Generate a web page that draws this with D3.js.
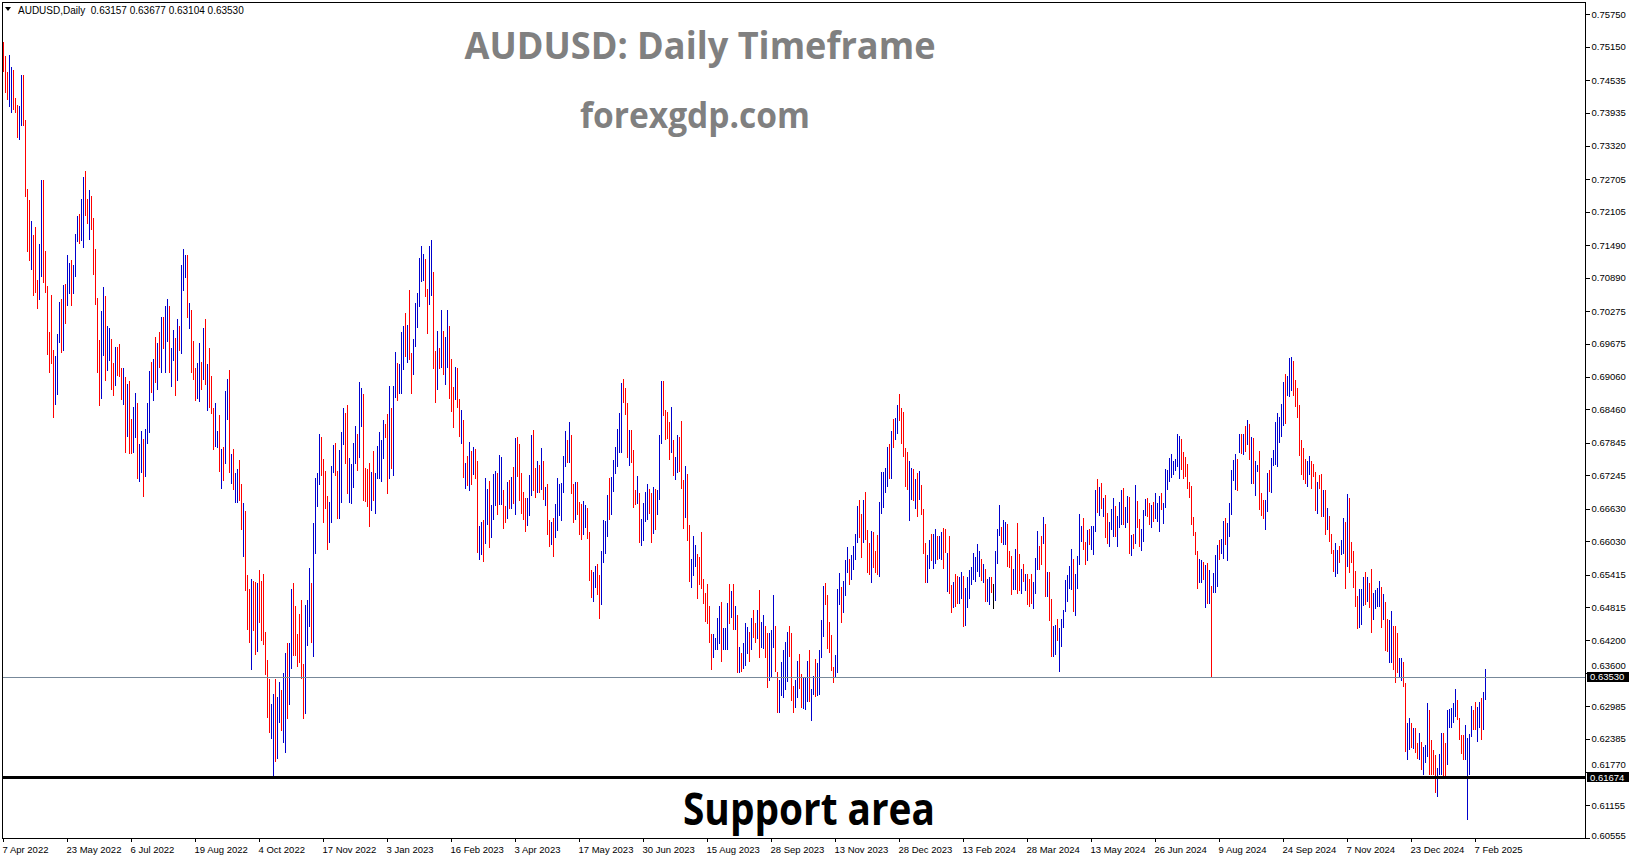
<!DOCTYPE html>
<html><head><meta charset="utf-8">
<script src="https://cdn.jsdelivr.net/npm/d3@7"></script>
<style>html,body{margin:0;padding:0;background:#fff;overflow:hidden}svg{display:block}</style>
</head><body>
<svg id="c" width="1631" height="861"></svg>
<script>
// ---- data (AUDUSD daily bars, 7 Apr 2022 .. 14 Feb 2025) ----
const highs = [
.7523,.7497,.7469,.7499,.7478,.7472,.7421,.7408,.7405,.7462,.7462,.7380,.7253,.7232,.7194,.7167,.7183,.7085,.7152,.7270,
.7270,.7139,.7074,.6989,.7057,.6956,.6945,.6986,.7045,.7050,.7076,.7077,.7131,.7117,.7122,.7112,.7170,.7203,.7207,.7234,
.7274,.7286,.7234,.7251,.7239,.7200,.7142,.7052,.6974,.7028,.7072,.7055,.6999,.6997,.6976,.6932,.6962,.6962,.6967,.6923,
.6923,.6906,.6892,.6899,.6829,.6851,.6877,.6858,.6783,.6807,.6792,.6809,.6858,.6916,.6934,.6939,.6980,.6969,.6988,.7016,
.7017,.7036,.7050,.7036,.6960,.6993,.6978,.7013,.6999,.7112,.7141,.7131,.7130,.7043,.7029,.6973,.6923,.6932,.6968,.6933,
.6996,.7013,.6929,.6960,
.6907,.6849,.6858,.6807,.6836,.6773,.6777,.6880,.6903,.6919,.6763,.6773,.6728,.6736,.6752,.6709,.6674,.6659,.6541,.6515,
.6533,.6529,.6527,.6525,.6550,.6529,.6543,.6435,.6383,.6349,.6302,.6321,.6349,.6316,.6343,.6328,.6359,.6396,.6415,.6416,
.6514,.6525,.6483,.6432,.6468,.6495,.6376,.6486,.6494,.6554,.6525,.6636,.6720,.6728,.6801,.6795,.6755,.6733,.6687,.6675,
.6742,.6781,.6785,.6732,.6772,.6805,.6849,.6840,.6855,.6757,.6746,.6785,.6815,.6801,.6897,.6886,.6874,.6738,.6736,.6748,
.6731,.6770,.6728,.6779,.6805,.6790,.6826,.6820,.6838,.6889,.6849,.6889,.6952,.6932,.6929,.6988,.6999,.7023,.7001,.7066,
.6950,.6976,.7043,.7061,.7126,.7147,.7133,.7124,.7068,.7147,
.7158,.7100,.6953,.6990,.6960,.7030,.6990,.6980,.7030,.7000,
.6939,.6888,.6924,.6922,.6866,.6845,.6826,.6748,.6760,.6786,.6769,.6777,.6773,.6751,.6631,.6638,.6642,.6720,.6700,.6714,
.6670,.6727,.6732,.6729,.6762,.6759,.6697,.6668,.6712,.6716,.6722,.6740,.6794,.6796,.6782,.6729,.6694,.6683,.6683,.6725,
.6799,.6808,.6738,.6751,.6743,.6775,.6750,.6702,.6708,.6642,.6639,.6646,.6672,.6720,.6708,.6711,.6761,.6807,.6790,.6822,
.6799,.6708,.6712,.6712,.6676,.6671,.6678,.6670,.6665,.6619,.6550,.6547,.6558,.6561,.6540,.6584,.6642,.6640,.6688,.6720,
.6722,.6753,.6777,.6810,.6840,.6895,.6902,.6886,.6858,.6808,.6808,.6771,.6697,.6723,.6691,
.6644,.6673,.6694,.6708,.6700,.6691,.6703,.6700,.6697,.6799,.6898,.6898,.6845,.6842,.6823,.6851,.6790,.6759,.6798,.6796,
.6825,.6716,.6742,.6727,.6633,.6570,.6612,.6596,.6579,.6574,.6620,.6534,.6507,.6524,.6483,.6432,.6432,.6425,.6461,.6483,
.6490,.6442,.6443,.6489,.6524,.6512,.6524,.6483,.6467,.6408,.6397,.6416,.6452,.6444,.6436,.6462,.6476,.6452,.6476,.6513,
.6454,.6467,.6446,.6433,.6434,.6440,.6503,.6446,.6362,.6347,.6381,.6403,.6417,.6436,.6446,.6434,.6336,.6347,.6382,.6395,
.6358,.6350,.6350,.6382,.6402,.6331,.6354,.6385,.6379,.6402,.6457,.6520,.6526,.6504,.6453,.6430,.6371,.6393,.6515,.6545,
.6518,.6530,.6568,.6593,.6571,.6577,.6594,
.6617,.6668,.6679,.6653,.6679,.6694,.6624,.6600,.6622,.6620,.6585,.6614,.6676,.6731,.6731,.6738,.6777,.6782,.6807,.6828,
.6831,.6854,.6874,.6849,.6842,.6774,.6768,.6751,.6738,.6737,.6717,.6729,.6733,.6706,.6662,.6599,.6577,.6605,.6617,.6616,
.6625,.6613,.6613,.6619,.6628,.6626,.6582,.6613,.6522,.6528,.6542,.6539,.6537,.6547,.6539,.6516,.6537,.6549,.6555,.6582,
.6573,.6598,.6584,.6571,.6561,.6551,.6534,.6537,.6537,.6524,.6584,.6626,.6670,.6630,.6642,.6638,.6635,.6585,.6576,.6551,
.6589,.6637,.6580,.6551,.6561,.6542,.6542,.6533,.6542,.6527,.6572,.6622,.6594,.6613,.6648,.6635,.6547,.6547,.6496,.6447,
.6448,.6459,.6442,.6459,.6476,.6531,.6541,.6557,
.6588,.6570,.6542,.6575,.6653,.6631,.6646,.6602,.6623,.6625,.6631,.6631,.6697,.6717,.6703,.6711,.6683,.6688,.6655,.6639,
.6662,.6683,.6668,.6650,.6676,.6697,.6701,.6666,.6687,.6685,.6614,.6616,.6706,.6677,.6644,.6625,.6660,.6681,.6682,.6673,
.6670,.6676,.6691,.6674,.6687,.6691,.6674,.6736,.6734,.6756,.6764,.6751,.6754,.6800,.6797,.6791,.6768,.6759,.6745,.6713,
.6705,.6648,.6620,.6585,.6570,.6569,.6564,.6559,.6563,.6550,.6521,.6545,.6577,.6596,.6606,.6607,.6640,.6646,.6636,.6673,
.6735,.6752,.6764,.6754,.6800,.6800,.6800,.6815,.6826,.6819,.6796,.6794,.6751,.6743,.6770,.6691,.6679,.6679,.6728,.6735,
.6756,.6771,.6822,.6840,.6832,.6856,.6897,.6912,.6908,.6940,
.6942,.6935,.6900,.6885,.6855,.6790,.6775,.6755,.6750,.6760,.6750,.6745,.6730,.6713,.6725,.6727,.6697,
.6697,.6665,.6650,.6617,.6587,.6600,.6587,.6594,.6605,.6645,.6639,.6690,.6683,.6602,.6585,.6548,.6501,.6515,.6514,.6537,
.6547,.6537,.6525,.6552,.6507,.6513,.6516,.6530,.6518,.6505,.6491,.6460,.6457,.6475,.6446,.6446,.6433,.6387,.6387,.6381,
.6342,.6268,.6276,.6267,.6258,.6258,.6230,.6250,.6233,.6224,.6227,.6305,.6291,.6236,.6218,.6208,.6184,.6210,.6250,.6250,
.6230,.6291,.6293,.6296,.6304,.6331,.6310,.6276,.6245,.6245,.6264,.6240,.6248,.6299,.6291,.6306,.6298,.6306,.6313,.6325,
.6368];
const lows = [
.7469,.7429,.7417,.7403,.7393,.7398,.7392,.7346,.7343,.7369,.7368,.7237,.7137,.7120,.7103,.7056,.7061,.7032,.7047,.7091,
.7080,.7060,.6947,.6913,.6929,.6831,.6855,.6873,.6969,.6951,.6953,.7004,.7037,.7059,.7037,.7059,.7091,.7154,.7152,.7157,
.7143,.7203,.7188,.7159,.7177,.7094,.7039,.6914,.6853,.6866,.6945,.6899,.6917,.6936,.6882,.6871,.6890,.6908,.6906,.6863,
.6855,.6765,.6796,.6763,.6764,.6766,.6794,.6717,.6713,.6728,.6684,.6721,.6782,.6803,.6876,.6861,.6895,.6881,.6923,.6914,
.6957,.6913,.6970,.6914,.6888,.6936,.6871,.6899,.6954,.6949,.7065,.7088,.7014,.6994,.6913,.6901,.6861,.6865,.6859,.6882,
.6900,.6891,.6843,.6848,
.6837,.6772,.6777,.6775,.6730,.6700,.6714,.6746,.6826,.6728,.6708,.6698,.6673,.6674,.6678,.6623,.6574,.6512,.6440,.6416,
.6365,.6437,.6393,.6399,.6452,.6418,.6411,.6356,.6276,.6249,.6239,.6169,.6195,.6202,.6268,.6253,.6231,.6212,.6275,.6300,
.6367,.6391,.6391,.6371,.6379,.6349,.6275,.6284,.6409,.6445,.6416,.6389,.6580,.6666,.6706,.6723,.6636,.6663,.6586,.6600,
.6636,.6728,.6723,.6644,.6644,.6673,.6781,.6746,.6690,.6673,.6671,.6701,.6745,.6732,.6757,.6813,.6677,.6675,.6666,.6629,
.6659,.6677,.6654,.6718,.6718,.6713,.6755,.6793,.6690,.6718,.6736,.6723,.6867,.6862,.6875,.6875,.6919,.6943,.6932,.6937,
.6874,.6909,.6962,.6996,.7035,.7081,.7083,.7053,.6986,.7039,
.7055,.6921,.6857,.6882,.6921,.6923,.6909,.6891,.6923,.6865,
.6842,.6812,.6863,.6849,.6796,.6782,.6720,.6699,.6705,.6696,.6706,.6725,.6718,.6582,.6568,.6577,.6565,.6598,.6633,.6591,
.6609,.6642,.6667,.6651,.6670,.6670,.6625,.6636,.6644,.6662,.6662,.6671,.6652,.6722,.6678,.6653,.6642,.6620,.6631,.6650,
.6687,.6696,.6683,.6692,.6691,.6697,.6679,.6667,.6614,.6593,.6596,.6574,.6608,.6622,.6650,.6640,.6691,.6740,.6747,.6747,
.6690,.6637,.6642,.6652,.6614,.6605,.6614,.6628,.6607,.6530,.6499,.6491,.6516,.6504,.6459,.6485,.6563,.6579,.6611,.6642,
.6651,.6694,.6727,.6740,.6766,.6766,.6857,.6836,.6756,.6742,.6747,.6665,.6670,.6671,.6599,
.6595,.6603,.6639,.6642,.6654,.6600,.6617,.6624,.6651,.6679,.6782,.6833,.6790,.6791,.6753,.6766,.6723,.6716,.6728,.6731,
.6700,.6625,.6645,.6604,.6528,.6516,.6539,.6556,.6497,.6522,.6515,.6488,.6454,.6451,.6416,.6365,.6388,.6403,.6403,.6413,
.6381,.6402,.6403,.6403,.6451,.6462,.6440,.6440,.6359,.6359,.6362,.6368,.6372,.6394,.6381,.6402,.6424,.6416,.6422,.6387,
.6406,.6405,.6387,.6333,.6346,.6350,.6406,.6362,.6286,.6286,.6317,.6314,.6328,.6344,.6389,.6309,.6286,.6296,.6313,.6330,
.6295,.6293,.6291,.6307,.6307,.6272,.6319,.6316,.6317,.6320,.6387,.6427,.6485,.6405,.6396,.6363,.6341,.6350,.6360,.6485,
.6452,.6470,.6502,.6545,.6522,.6531,.6550,
.6568,.6599,.6608,.6572,.6600,.6605,.6545,.6540,.6526,.6554,.6544,.6540,.6537,.6654,.6665,.6692,.6702,.6718,.6718,.6775,
.6789,.6801,.6825,.6782,.6759,.6703,.6698,.6641,.6679,.6678,.6662,.6648,.6679,.6651,.6579,.6526,.6525,.6551,.6567,.6551,
.6560,.6568,.6571,.6569,.6551,.6582,.6510,.6505,.6470,.6479,.6482,.6488,.6488,.6496,.6444,.6447,.6479,.6497,.6522,.6531,
.6527,.6547,.6537,.6530,.6526,.6490,.6490,.6485,.6508,.6478,.6493,.6561,.6613,.6599,.6596,.6596,.6556,.6554,.6504,.6513,
.6513,.6505,.6511,.6505,.6528,.6512,.6485,.6481,.6488,.6477,.6505,.6550,.6550,.6559,.6598,.6500,.6500,.6456,.6390,.6390,
.6393,.6418,.6362,.6408,.6442,.6473,.6491,.6514,
.6513,.6473,.6465,.6514,.6559,.6601,.6586,.6559,.6566,.6596,.6586,.6578,.6620,.6655,.6649,.6662,.6648,.6609,.6598,.6593,
.6623,.6611,.6611,.6593,.6628,.6633,.6633,.6628,.6636,.6579,.6576,.6588,.6598,.6628,.6593,.6585,.6602,.6649,.6648,.6633,
.6628,.6638,.6644,.6639,.6620,.6660,.6634,.6665,.6697,.6713,.6719,.6725,.6732,.6740,.6717,.6734,.6717,.6722,.6699,.6682,
.6633,.6613,.6577,.6514,.6525,.6525,.6531,.6480,.6488,.6488,.6350,.6508,.6507,.6519,.6568,.6580,.6571,.6596,.6566,.6610,
.6651,.6714,.6697,.6696,.6765,.6763,.6762,.6768,.6780,.6753,.6708,.6708,.6687,.6730,.6660,.6650,.6643,.6623,.6657,.6694,
.6691,.6741,.6743,.6739,.6784,.6796,.6815,.6820,.6871,.6869,
.6880,.6870,.6850,.6830,.6760,.6725,.6716,.6709,.6703,.6725,.6700,.6722,.6659,.6654,.6700,.6648,.6648,
.6614,.6623,.6602,.6580,.6547,.6537,.6542,.6562,.6577,.6580,.6514,.6556,.6544,.6563,.6516,.6481,.6441,.6442,.6448,.6483,
.6485,.6491,.6479,.6434,.6457,.6477,.6482,.6482,.6443,.6457,.6401,.6399,.6379,.6378,.6365,.6341,.6359,.6353,.6346,.6334,
.6215,.6199,.6218,.6221,.6219,.6212,.6202,.6200,.6181,.6172,.6193,.6205,.6172,.6172,.6172,.6139,.6132,.6172,.6172,.6168,
.6165,.6190,.6258,.6258,.6267,.6279,.6273,.6237,.6211,.6199,.6199,.6088,.6172,.6242,.6254,.6254,.6233,.6258,.6236,.6255,
.6310];
// u = close above open (blue), d = close below open (red), n = unchanged (black)
const dirs = (
"ddduuddduu"+"dddduddduu"+"dddddduuud"+"uduuduuudu"+"uddudddddu"+"uduudduddd"+"ududduuduu"+"duuudududu"+"duuduududu"+"uududdduud"+"udud"+
"dduududuud"+"uduudduddd"+"uddudddddd"+"uuduuduudu"+"udddddduuu"+"duuuuddddu"+"uudduuuddu"+"uuuduudddd"+"uduuuuuddu"+"duuduuudud"+"duuuuuuddu"+
"uddududuud"+
"dduddududu"+"dudduuduud"+"uuuduuddud"+"ududdddduu"+"uddudududd"+"uduuuuuudu"+"dduddduudd"+"duudduuuud"+"uuuuuudddu"+"dddud"+
"uuuudduduu"+"udddduduud"+"ddudduuudd"+"dddddduuuu"+"duuudududu"+"duuududdud"+"uudduuuddu"+"uuuuddduud"+"duuuduuduu"+"uuddddduuu"+"duuuduu"+
"uuddudddud"+"dduuuuudud"+"uuddddduud"+"ududdduudu"+"uduudduddu"+"dduuduuuuu"+"uuududuudn"+"uuuduudddu"+"uddududddu"+"uuddududdu"+"uduuuuuu"+
"uduuuuddud"+"uuudududdu"+"uuduuuduud"+"ududduuudd"+"uduuuduuuu"+"uuuuuddddd"+"dddduududu"+"duuuduuduu"+"uuudududud"+"uduuddduud"+"uuuuuuuduu"+
"uddddddduu"+"ddduddu"+
"duddduuduu"+"duddddduuu"+"dudduuuudu"+"dduuddduud"+"duududdudu"+"uudddduuud"+"duuuuudddd"+"uuuudduudu"+"u").split("");

const priceTicks = [0.75750,0.75150,0.74535,0.73935,0.73320,0.72705,0.72105,0.71490,0.70890,0.70275,0.69675,0.69060,0.68460,
  0.67845,0.67245,0.66630,0.66030,0.65415,0.64815,0.64200,0.63600,0.62985,0.62385,0.61770,0.61155,0.60555];
const dateLabels = ["7 Apr 2022","23 May 2022","6 Jul 2022","19 Aug 2022","4 Oct 2022","17 Nov 2022","3 Jan 2023","16 Feb 2023",
  "3 Apr 2023","17 May 2023","30 Jun 2023","15 Aug 2023","28 Sep 2023","13 Nov 2023","28 Dec 2023","13 Feb 2024","28 Mar 2024",
  "13 May 2024","26 Jun 2024","9 Aug 2024","24 Sep 2024","7 Nov 2024","23 Dec 2024","7 Feb 2025"];
const barsPerLabel = 32;
const lastBar = {open:0.63157, high:0.63677, low:0.63104, close:0.63530};
const supportLevel = 0.61674;
const symbolName = "AUDUSD,Daily";

// ---- layout ----
const P = {left:2, top:2, right:1585, bottom:838};
const n = Math.min(highs.length, lows.length);
const x = d3.scaleLinear().domain([0, 741]).range([3, 1485]);
const y = d3.scaleLinear().domain([0.60555, 0.75750]).range([838, 14.2]);
const colors = {u:"#0000cd", d:"#ff0000", n:"#000000"};
const fmt = d3.format(".5f");

const svg = d3.select("#c");
svg.append("rect").attr("width",1631).attr("height",861).attr("fill","#fff");
svg.append("clipPath").attr("id","clip").append("rect")
  .attr("x",P.left).attr("y",P.top).attr("width",P.right-P.left).attr("height",P.bottom-P.top);

const g = svg.append("g").attr("clip-path","url(#clip)").attr("shape-rendering","crispEdges");
g.selectAll("rect.bar").data(d3.range(n)).join("rect")
  .attr("class","bar")
  .attr("x", i => Math.round(x(i)))
  .attr("width", 1)
  .attr("y", i => Math.round(y(highs[i])))
  .attr("height", i => Math.max(1, Math.round(y(lows[i])) - Math.round(y(highs[i]))))
  .attr("fill", i => colors[dirs[i]] || colors.n);

// current price line
g.append("line").attr("x1",P.left).attr("x2",P.right)
  .attr("y1", Math.round(y(lastBar.close))+0.5).attr("y2", Math.round(y(lastBar.close))+0.5)
  .attr("stroke","#778899").attr("stroke-width",1);
// support line
g.append("line").attr("x1",P.left).attr("x2",P.right)
  .attr("y1", y(supportLevel)).attr("y2", y(supportLevel))
  .attr("stroke","#000").attr("stroke-width",3);

// frame
svg.append("rect").attr("x",P.left+0.5).attr("y",P.top+0.5)
  .attr("width",P.right-P.left).attr("height",P.bottom-P.top)
  .attr("fill","none").attr("stroke","#000").attr("stroke-width",1).attr("shape-rendering","crispEdges");

const axisFont = "Liberation Sans, Arial, sans-serif";
// right price axis
const ay = svg.append("g").attr("transform",`translate(${P.right+0.5},0)`)
  .call(d3.axisRight(y).tickValues(priceTicks).tickSize(4).tickPadding(2).tickFormat(fmt));
ay.select(".domain").remove();
ay.selectAll(".tick line").attr("stroke","#000").attr("shape-rendering","crispEdges");
ay.selectAll(".tick text").attr("font-family",axisFont).attr("font-size",9.5).attr("fill","#000");
ay.selectAll(".tick").filter(d => d === 0.60555).select("text").attr("dy","0.1em");
// grid labels that sit right under the price boxes peek out above them
ay.selectAll(".tick").filter(d => d === 0.63600 || d === 0.61770).select("text").attr("dy","-0.45em");

// price label boxes
function priceBox(v){
  const yy = y(v);
  svg.append("rect").attr("x",P.right+2).attr("y",Math.round(yy)-5).attr("width",42).attr("height",10).attr("fill","#000");
  svg.append("text").attr("x",P.right+5).attr("y",yy).attr("dy","0.34em")
    .attr("font-family",axisFont).attr("font-size",9.5).attr("fill","#fff").text(fmt(v));
}
priceBox(lastBar.close);
priceBox(supportLevel);

// bottom time axis
const ax = svg.append("g");
dateLabels.forEach((lab, k) => {
  const xi = Math.round(x(k*barsPerLabel)) + 0.5;
  ax.append("line").attr("x1",xi).attr("x2",xi).attr("y1",P.bottom).attr("y2",P.bottom+4)
    .attr("stroke","#000").attr("shape-rendering","crispEdges");
  ax.append("text").attr("x",xi-1).attr("y",853).attr("font-family",axisFont).attr("font-size",9.5).attr("fill","#000").text(lab);
});

// header
svg.append("path").attr("d","M5,7 L11,7 L8,11 Z").attr("fill","#000");
svg.append("text").attr("x",18).attr("y",14).attr("font-family",axisFont).attr("font-size",10).attr("fill","#000")
  .style("white-space","pre")
  .text(`${symbolName}  ${fmt(lastBar.open)} ${fmt(lastBar.high)} ${fmt(lastBar.low)} ${fmt(lastBar.close)}`);

// titles
const titleFont = "Open Sans, Noto Sans, sans-serif";
svg.append("text").attr("x",700).attr("y",59).attr("text-anchor","middle")
  .attr("font-family",titleFont).attr("font-weight",700).attr("font-size",37).attr("fill","#808080")
  .attr("textLength",471).attr("lengthAdjust","spacingAndGlyphs").text("AUDUSD: Daily Timeframe");
svg.append("text").attr("x",695).attr("y",128).attr("text-anchor","middle")
  .attr("font-family",titleFont).attr("font-weight",700).attr("font-size",35).attr("fill","#808080")
  .attr("textLength",230).attr("lengthAdjust","spacingAndGlyphs").text("forexgdp.com");
svg.append("text").attr("x",809).attr("y",825).attr("text-anchor","middle")
  .attr("font-family",titleFont).attr("font-weight",700).attr("font-size",44).attr("fill","#000")
  .attr("textLength",252).attr("lengthAdjust","spacingAndGlyphs").text("Support area");
</script>
</body></html>
